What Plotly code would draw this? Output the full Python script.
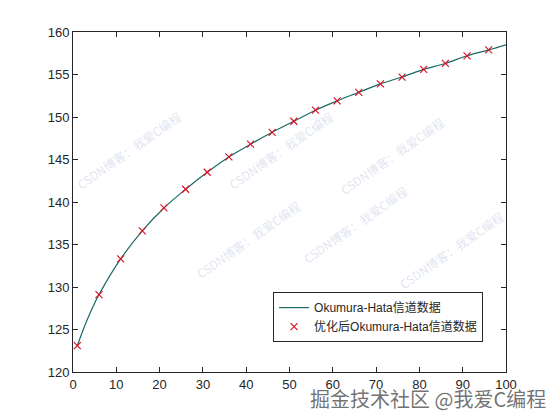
import plotly.graph_objects as go

# Data
x_markers = [1, 6, 11, 16, 21, 26, 31, 36, 41, 46, 51, 56, 61, 66, 71, 76, 81, 86, 91, 96]
y_markers = [123.1, 129.1, 133.3, 136.6, 139.3, 141.5, 143.5, 145.3, 146.8, 148.2,
             149.5, 150.8, 151.9, 152.9, 153.9, 154.7, 155.6, 156.3, 157.2, 157.9]
x_line = [1, 2, 3, 4, 5, 6, 11, 16, 21, 26, 31, 36, 41, 46, 51, 56, 61, 66, 71, 76, 81, 86, 91, 96, 100]
y_line = [123.1, 124.5, 125.8, 127.0, 128.1, 129.1, 133.3, 136.6, 139.3, 141.5, 143.5, 145.3,
          146.8, 148.2, 149.5, 150.8, 151.9, 152.9, 153.9, 154.7, 155.6, 156.3, 157.2, 157.9, 158.5]
x_ticks = [0, 10, 20, 30, 40, 50, 60, 70, 80, 90, 100]
y_ticks = [120, 125, 130, 135, 140, 145, 150, 155, 160]

line_name = "Okumura-Hata信道数据"
marker_name = "优化后Okumura-Hata信道数据"
watermark = "CSDN博客：我爱C编程"
footer = "掘金技术社区 @我爱C编程"

fig = go.Figure()
fig.add_trace(go.Scatter(x=x_line, y=y_line, mode="lines", name=line_name,
                         line=dict(color="rgb(25,105,100)", width=1.2, shape="spline")))
fig.add_trace(go.Scatter(x=x_markers, y=y_markers, mode="markers", name=marker_name,
                         marker=dict(symbol="x-thin", size=7, color="rgb(220,20,40)",
                                     line=dict(color="rgb(220,20,40)", width=1.2))))

axis_common = dict(showgrid=False, zeroline=False, showline=True, linecolor="#262626",
                   linewidth=1, mirror="ticks", ticks="inside", ticklen=5, tickcolor="#262626",
                   tickfont=dict(family="Liberation Sans, Arial, sans-serif", size=13, color="#262626"))

fig.update_xaxes(range=[0, 100], tickvals=x_ticks, **axis_common)
fig.update_yaxes(range=[120, 160], tickvals=y_ticks, **axis_common)

# Page body has an 8px margin: figure is 552x412, plot area at window px 73..506, 32..372
W, H = 552, 412
L, R, T, B = 65, 54, 24, 48
pw, ph = W - L - R, H - T - B

def to_paper(px, py):
    # window pixel -> paper coords
    return (px - 8 - L) / pw, (H - B - (py - 8)) / ph

wm_pos = [(70, 105), (280, 150), (190, 285), (355, 270), (450, 155), (510, 295)]
anns = []
for (px, py) in wm_pos:
    ax_, ay_ = to_paper(px, py)
    anns.append(dict(x=ax_, y=ay_, xref="paper", yref="paper",
                     text=watermark, showarrow=False, textangle=-35,
                     font=dict(family="Noto Sans CJK SC", size=12, color="rgba(150,160,205,0.3)")))
fx, fy = to_paper(548, 398)
anns.append(dict(x=fx, y=fy, xref="paper", yref="paper",
                 xanchor="right", yanchor="middle",
                 text=footer, showarrow=False,
                 font=dict(family="Noto Sans CJK SC", size=20, color="rgba(90,90,90,0.85)")))

fig.update_layout(
    width=W, height=H,
    margin=dict(l=L, r=R, t=T, b=B),
    paper_bgcolor="white", plot_bgcolor="white",
    showlegend=True,
    legend=dict(x=0.947, y=0.088, xanchor="right", yanchor="bottom",
                bgcolor="white", bordercolor="#262626", borderwidth=1,
                font=dict(family="Liberation Sans, Noto Sans CJK SC, sans-serif", size=12, color="#262626"),
                tracegroupgap=0, itemwidth=30),
    annotations=anns,
)

fig.write_html("out.html")
